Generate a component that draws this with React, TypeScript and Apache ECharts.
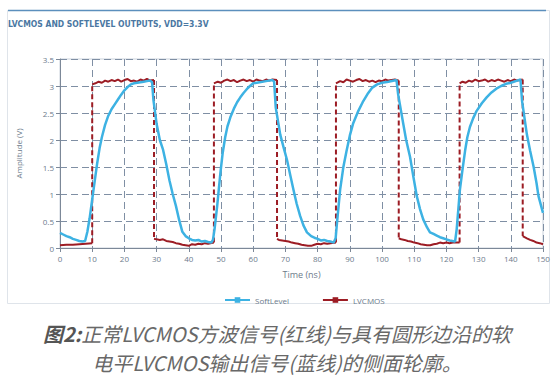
import React, { useEffect, useRef } from "react";
import * as echarts from "echarts";

const titleText = "LVCMOS AND SOFTLEVEL OUTPUTS, VDD=3.3V";
const xAxisName = "Time (ns)";
const yAxisName = "Amplitude (V)";
const captionBold = "图2:";
const captionLine1 = "正常LVCMOS方波信号(红线)与具有圆形边沿的软";
const captionLine2 = "电平LVCMOS输出信号(蓝线)的侧面轮廓。";

const softTime = [
  0, 1, 2, 3, 4, 5, 6, 7, 7.8, 8.5, 9.2, 10, 10.8, 11.5, 12.3, 13, 14, 15, 16, 17, 18, 19, 20, 21, 22, 23, 24, 25, 26, 27, 28, 28.6,
  29, 30, 31, 32, 33, 34, 35, 36, 37, 38, 39, 40, 41, 42, 43, 44, 45, 46, 47, 47.5,
  48, 48.8, 49.8, 50.5, 51.3, 52, 52.9, 54, 55, 56, 57, 58, 59, 60, 62, 64, 66, 66.5,
  67, 68.4, 69.5, 70.5, 71.5, 72.5, 73.5, 74.6, 75.6, 76.7, 78, 79, 80, 81, 82, 83, 84, 85, 85.6,
  86, 87, 88, 89, 90, 91, 92.5, 94, 95.5, 97, 98.5, 100, 102, 104.5,
  105, 106.6, 107.5, 108.7, 109.8, 110.8, 111.8, 112.8, 114, 114.9, 116, 117, 118, 119, 120, 121, 122.7,
  123.2, 124.2, 125, 125.8, 126.5, 127.3, 128.3, 129.4, 131, 132.5, 134, 135.5, 137, 138.5, 140, 142, 143,
  143.5, 145, 146, 147.1, 148, 148.6, 150,
];
const softLevel = [
  0.28, 0.25, 0.22, 0.2, 0.17, 0.15, 0.13, 0.12, 0.13, 0.3, 0.55, 0.9, 1.25, 1.55, 1.85, 2.05, 2.28, 2.45, 2.57, 2.66, 2.75, 2.84, 2.92, 2.98, 3.03, 3.05, 3.06, 3.07, 3.08, 3.09, 3.1, 3.07,
  2.75, 2.3, 2.0, 1.82, 1.55, 1.25, 1.0, 0.78, 0.52, 0.3, 0.22, 0.18, 0.15, 0.14, 0.15, 0.12, 0.13, 0.11, 0.1, 0.15,
  0.35, 0.77, 1.38, 1.75, 2.05, 2.25, 2.42, 2.58, 2.7, 2.79, 2.87, 2.94, 3.0, 3.05, 3.07, 3.09, 3.11, 3.08,
  2.6, 2.1, 1.85, 1.63, 1.35, 1.08, 0.82, 0.59, 0.42, 0.29, 0.22, 0.19, 0.17, 0.14, 0.15, 0.13, 0.12, 0.1, 0.18,
  0.45, 1.08, 1.5, 1.8, 2.08, 2.3, 2.52, 2.7, 2.85, 2.97, 3.03, 3.06, 3.08, 3.11,
  2.85, 2.3, 2.0, 1.69, 1.3, 0.96, 0.72, 0.53, 0.38, 0.29, 0.26, 0.23, 0.2, 0.18, 0.16, 0.14, 0.12,
  0.35, 1.08, 1.45, 1.8, 2.05, 2.24, 2.4, 2.54, 2.68, 2.79, 2.88, 2.95, 3.0, 3.04, 3.06, 3.1, 3.12,
  2.72, 2.1, 1.8, 1.5, 1.2, 0.96, 0.65,
];

const lvcmosTime = [
  0, 2, 4, 6, 8, 10, 10, 11, 12, 13, 14, 15, 16, 17, 18, 19, 20, 21, 22, 23, 24, 25, 26, 27, 28, 29.2, 29.2,
  30, 31, 32, 33, 34, 35, 36, 37, 38, 39, 40, 41, 42, 43, 44, 45, 46, 47.8, 47.8,
  49, 50, 51, 52, 53, 54, 55, 56, 57, 58, 59, 60, 61, 62, 63, 64, 65, 66, 67.4, 67.4,
  68, 69, 70, 71, 72, 73, 74, 75, 76, 77, 78, 79, 80, 81, 82, 83, 84, 85.7, 85.7,
  87, 88, 89, 90, 91, 92, 93, 94, 95, 96, 97, 98, 99, 100, 101, 102, 103, 104, 105.2, 105.2,
  106, 107, 108, 109, 110, 111, 112, 113, 114, 115, 116, 117, 118, 119, 120, 121, 122, 124.1, 124.1,
  125, 126, 127, 128, 129, 130, 131, 132, 133, 134, 135, 136, 137, 138, 139, 140, 141, 142, 143.7, 143.7,
  145, 146, 147, 148, 149, 150,
];
const lvcmosLevel = [
  0.05, 0.06, 0.06, 0.07, 0.08, 0.09, 3.03, 3.05, 3.08, 3.06, 3.1, 3.08, 3.11, 3.09, 3.12, 3.08, 3.11, 3.13, 3.09, 3.1, 3.08, 3.12, 3.1, 3.13, 3.1, 3.11, 0.17,
  0.16, 0.15, 0.16, 0.13, 0.12, 0.11, 0.09, 0.08, 0.06, 0.05, 0.04, 0.07, 0.06, 0.08, 0.07, 0.09, 0.08, 0.1, 3.05,
  3.08, 3.06, 3.1, 3.12, 3.09, 3.11, 3.07, 3.1, 3.12, 3.09, 3.11, 3.08, 3.12, 3.1, 3.09, 3.12, 3.1, 3.12, 3.11, 0.17,
  0.15, 0.14, 0.13, 0.12, 0.1, 0.09, 0.08, 0.06, 0.05, 0.04, 0.04, 0.06, 0.08, 0.07, 0.09, 0.08, 0.09, 0.1, 3.05,
  3.09, 3.07, 3.12, 3.1, 3.08, 3.11, 3.13, 3.09, 3.11, 3.08, 3.1, 3.07, 3.1, 3.09, 3.12, 3.1, 3.11, 3.12, 3.1, 0.18,
  0.16, 0.15, 0.13, 0.12, 0.1, 0.09, 0.07, 0.06, 0.05, 0.05, 0.07, 0.08, 0.1, 0.09, 0.1, 0.09, 0.1, 0.1, 3.05,
  3.08, 3.06, 3.1, 3.08, 3.12, 3.09, 3.1, 3.12, 3.08, 3.11, 3.09, 3.12, 3.1, 3.08, 3.11, 3.09, 3.12, 3.1, 3.12, 0.22,
  0.18, 0.15, 0.13, 0.1, 0.09, 0.07,
];

const BLUE = "#3db2e3";
const RED = "#9c1c24";

export default function App() {
  const ref = useRef<HTMLDivElement>(null);
  useEffect(() => {
    const chart = echarts.init(ref.current!, null, { renderer: "svg" });
    const softData = softTime.map((t, i) => [t, softLevel[i]]);
    const plateau: any[] = [];
    const edges: any[] = [];
    const n = lvcmosTime.length;
    for (let i = 0; i < n; i++) {
      plateau.push([lvcmosTime[i], lvcmosLevel[i]]);
      if (i + 1 < n && lvcmosTime[i + 1] === lvcmosTime[i]) {
        plateau.push([lvcmosTime[i], "-"]);
        edges.push([lvcmosTime[i], lvcmosLevel[i]], [lvcmosTime[i + 1], lvcmosLevel[i + 1]], [lvcmosTime[i], "-"]);
      }
    }
    const axisFont = { fontFamily: "Open Sans", fontSize: 8, color: "#6d7b8c" };
    chart.setOption({
      animation: false,
      backgroundColor: "#ffffff",
      grid: {
        left: 60,
        right: 17,
        top: 59,
        bottom: 136,
        show: true,
        borderColor: "#c9d1db",
        borderWidth: 1,
      },
      xAxis: {
        type: "value",
        min: 0,
        max: 150,
        interval: 10,
        name: xAxisName,
        nameLocation: "middle",
        nameGap: 22,
        nameTextStyle: { ...axisFont, fontSize: 9 },
        axisLine: { lineStyle: { color: "#7c8898", width: 1 } },
        axisTick: { show: true, length: 4, lineStyle: { color: "#7c8898" } },
        axisLabel: { ...axisFont, margin: 6 },
        splitLine: { show: true, lineStyle: { color: "#7f8fa4", type: [7, 4], width: 1 } },
      },
      yAxis: {
        type: "value",
        min: 0,
        max: 3.5,
        interval: 0.5,
        name: yAxisName,
        nameLocation: "middle",
        nameGap: 38,
        nameTextStyle: { ...axisFont, fontSize: 8 },
        axisLine: { show: true, lineStyle: { color: "#7c8898", width: 1 } },
        axisTick: { show: true, length: 4, lineStyle: { color: "#7c8898" } },
        axisLabel: { ...axisFont, margin: 6 },
        splitLine: { show: true, lineStyle: { color: "#7f8fa4", type: [7, 4], width: 1 } },
      },
      legend: {
        data: ["SoftLevel", "LVCMOS"],
        left: 219,
        top: 291,
        itemWidth: 25,
        itemHeight: 7,
        itemGap: 33,
        textStyle: { fontFamily: "Open Sans", fontSize: 8, color: "#6d7b8c" },
      },
      graphic: [
        {
          type: "rect",
          z: -10,
          shape: { x: 7.5, y: 10.5, width: 542, height: 293 },
          style: { fill: "#ffffff", stroke: "#dfe4ea", lineWidth: 1 },
        },
        {
          type: "line",
          z: -5,
          shape: { x1: 8, y1: 10.5, x2: 546, y2: 10.5 },
          style: { stroke: "#5b8fbd", lineWidth: 1.5 },
        },
        {
          type: "text",
          x: 8,
          y: 24,
          style: {
            text: titleText,
            fontFamily: "DejaVu Sans Condensed",
            fontWeight: "bold",
            fontSize: 8.5,
            fill: "#4a77a2",
            verticalAlign: "middle",
          },
        },
        {
          type: "text",
          x: 277,
          y: 333,
          style: {
            text: "{b|" + captionBold + "}" + captionLine1,
            fontFamily: "Noto Sans CJK SC",
            fontStyle: "italic",
            fontSize: 20,
            fill: "#686868",
            align: "center",
            verticalAlign: "middle",
            rich: {
              b: { fontFamily: "Noto Sans CJK SC", fontStyle: "italic", fontWeight: "bold", fontSize: 20, fill: "#555555" },
            },
          },
        },
        {
          type: "text",
          x: 277,
          y: 362,
          style: {
            text: captionLine2,
            fontFamily: "Noto Sans CJK SC",
            fontStyle: "italic",
            fontSize: 20,
            fill: "#686868",
            align: "center",
            verticalAlign: "middle",
          },
        },
      ],
      series: [
        {
          name: "LVCMOS",
          type: "line",
          data: plateau,
          symbol: "rect",
          symbolSize: 7,
          showSymbol: false,
          connectNulls: false,
          itemStyle: { color: RED },
          lineStyle: { color: RED, width: 2 },
          z: 2,
        },
        {
          name: "LVCMOS",
          type: "line",
          data: edges,
          symbol: "rect",
          symbolSize: 7,
          showSymbol: false,
          connectNulls: false,
          itemStyle: { color: RED },
          lineStyle: { color: RED, width: 2, type: [5, 3] },
          z: 2,
        },
        {
          name: "SoftLevel",
          type: "line",
          data: softData,
          symbol: "rect",
          symbolSize: 7,
          showSymbol: false,
          itemStyle: { color: BLUE },
          lineStyle: { color: BLUE, width: 2.5 },
          z: 3,
        },
      ],
    });
    return () => chart.dispose();
  }, []);
  return <div ref={ref} style={{ position: "absolute", left: 0, top: 0, width: 560, height: 384 }} />;
}
